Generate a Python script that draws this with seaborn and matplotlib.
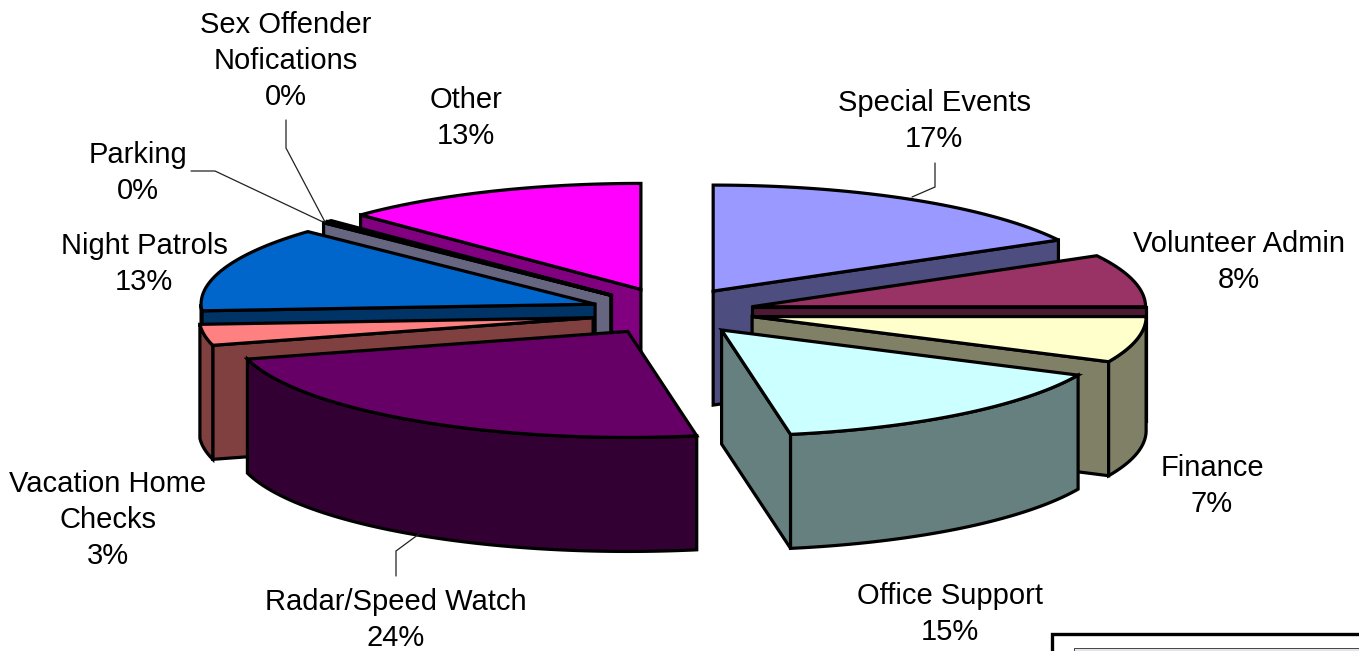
import numpy as np
import matplotlib
matplotlib.use("Agg")
import matplotlib.pyplot as plt
import seaborn as sns

categories = ["Special Events", "Volunteer Admin", "Finance", "Office Support",
              "Radar/Speed Watch", "Vacation Home Checks", "Night Patrols",
              "Parking", "Sex Offender Nofications", "Other"]
values = [17.0, 8.0, 7.0, 15.2, 23.6, 3.2, 13.0, 0.2, 0.2, 12.6]
colors = ["#9999FF", "#993366", "#FFFFCC", "#CCFFFF", "#660066",
          "#FF8080", "#0066CC", "#CCCCFF", "#660066", "#FF00FF"]
explode = [73, 78, 78, 75, 90, 84, 86, 90, 90, 91]
lift = [-4, 0, 0, 2, -1, 2, 0, 0, 0, 0]
draw_order = [9, 8, 7, 6, 5, 4, 0, 1, 2, 3]

label_lines = ["Special Events", "Volunteer Admin", "Finance", "Office Support",
               "Radar/Speed Watch", "Vacation Home\nChecks", "Night Patrols",
               "Parking", "Sex Offender\nNofications", "Other"]
label_xy = [(934, 121), (1239, 262), (1212, 486), (950, 614), (396, 620),
            (108, 520), (144, 264), (138, 173), (286, 61), (466, 118)]
leaders = {0: [(935, 163), (935, 187), (912, 197)],
           4: [(396, 576), (396, 551), (419, 534)],
           7: [(191, 171), (215, 171), (323, 222)],
           8: [(286, 120), (286, 148), (325, 222)]}

CX, CY, RX, RY, DEPTH = 676, 312, 394, 106, 114
sns.set_theme(style="white")
plt.rcParams["font.family"] = ["Liberation Sans", "DejaVu Sans"]
palette = sns.color_palette(colors)

fig, ax = plt.subplots(figsize=(13.59, 6.51), dpi=100)
fig.subplots_adjust(0, 0, 1, 1)
ax.set_xlim(0, 1359)
ax.set_ylim(651, 0)
ax.axis("off")

edges = np.radians(np.concatenate([[0], np.cumsum(values) * 3.6]))
LW = 2.3
style = dict(edgecolor="black", linewidth=LW, joinstyle="miter")


def pt(cx, cy, a, dz=0):
    return cx + RX * np.sin(a), cy - RY * np.cos(a) + dz


for i in draw_order:
    a0, a1 = edges[i], edges[i + 1]
    mid = (a0 + a1) / 2
    cx = CX + explode[i] * np.sin(mid)
    cy = CY - explode[i] * np.cos(mid) * RY / RX + lift[i]
    side = tuple(c * 0.5 for c in palette[i])
    for a, visible in ((a1, np.sin(a1) > 0.001), (a0, np.sin(a0) < -0.001)):
        if visible:
            x, y = pt(cx, cy, a)
            ax.fill([cx, x, x, cx], [cy, y, y + DEPTH, cy + DEPTH], facecolor=side, **style)
    lo, hi = max(a0, np.pi / 2), min(a1, 3 * np.pi / 2)
    if hi > lo:
        t = np.linspace(lo, hi, 60)
        xt, yt = pt(cx, cy, t)
        ax.fill(np.r_[xt, xt[::-1]], np.r_[yt, yt[::-1] + DEPTH], facecolor=side, **style)
    t = np.linspace(a0, a1, 80)
    xt, yt = pt(cx, cy, t)
    ax.fill(np.r_[cx, xt], np.r_[cy, yt], facecolor=palette[i], **style)

for i, lab in enumerate(label_lines):
    x, y = label_xy[i]
    ax.text(x, y, f"{lab}\n{round(values[i]):d}%", ha="center", va="center",
            fontsize=21, color="black", linespacing=1.36, multialignment="center")

for pts in leaders.values():
    xs, ys = zip(*pts)
    ax.plot(xs, ys, color="#222222", lw=0.9, solid_joinstyle="miter")

# partially visible box cut off by the lower right corner
ax.plot([1359, 1052, 1052], [634, 634, 651], color="black", lw=2.4, solid_joinstyle="miter")
ax.plot([1359, 1074, 1074], [648, 648, 651], color="#444444", lw=0.7)
ax.fill([1075, 1359, 1359, 1075], [649, 649, 651, 651], color="#E6E4EA", lw=0)

fig.savefig("out.png", dpi=100)
